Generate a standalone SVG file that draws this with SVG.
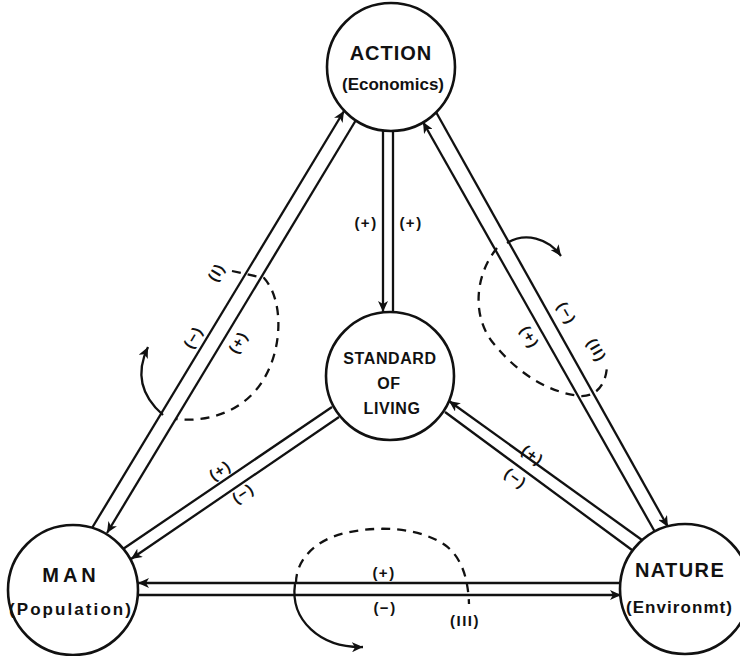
<svg xmlns="http://www.w3.org/2000/svg" width="740" height="656" viewBox="0 0 740 656">
  <defs>
    <marker id="head" markerUnits="userSpaceOnUse" markerWidth="12" markerHeight="10" refX="11" refY="5" orient="auto">
      <path d="M0,0 L11,5 L0,10 L3,5 z" fill="#111"/>
    </marker>
    <style>
      .node circle { fill: #fff; stroke: #111; stroke-width: 2.6; }
      .title { font-family: "Liberation Sans", Arial, sans-serif; font-weight: bold; font-size: 20px; fill: #111; text-anchor: middle; }
      .sub { font-family: "Liberation Sans", Arial, sans-serif; font-weight: bold; font-size: 17px; fill: #111; text-anchor: middle; }
      .inner { font-family: "Liberation Sans", Arial, sans-serif; font-weight: bold; font-size: 16px; fill: #111; text-anchor: middle; letter-spacing: 0.6px; }
      .link { stroke: #111; stroke-width: 2.3; fill: none; }
      .arrow { marker-end: url(#head); }
      .sign { font-family: "Liberation Sans", Arial, sans-serif; font-weight: bold; font-size: 15px; fill: #111; text-anchor: middle; dominant-baseline: central; letter-spacing: 1.5px; }
      .loop { stroke: #111; stroke-width: 2.3; fill: none; stroke-dasharray: 9 7; }
      .turn { stroke: #111; stroke-width: 2.3; fill: none; marker-end: url(#head); }
    </style>
  </defs>

  <rect width="740" height="656" fill="#fff"/>

  <!-- connectors: paired links, sign labels and feedback loops -->
  <g id="connectors">
    <!-- Action / Standard of Living -->
    <line class="link arrow" x1="383" y1="131" x2="383" y2="312"/>
    <line class="link" x1="393" y1="312" x2="393" y2="131"/>
    <text class="sign" x="366" y="222">(+)</text>
    <text class="sign" x="411" y="222">(+)</text>

    <!-- Action / Man -->
    <line class="link arrow" x1="92" y1="528" x2="344" y2="111"/>
    <line class="link arrow" x1="356" y1="120" x2="107" y2="533"/>
    <text class="sign" transform="translate(216,272) rotate(-59)">(I)</text>
    <text class="sign" transform="translate(193,337) rotate(-59)">(−)</text>
    <text class="sign" transform="translate(238,342) rotate(-59)">(+)</text>

    <!-- Action / Nature -->
    <line class="link arrow" x1="655" y1="532" x2="423" y2="122"/>
    <line class="link arrow" x1="436" y1="112" x2="668" y2="527"/>
    <text class="sign" transform="translate(567,313) rotate(60)">(−)</text>
    <text class="sign" transform="translate(530,337) rotate(60)">(+)</text>
    <text class="sign" transform="translate(597,350) rotate(60)">(II)</text>

    <!-- Standard of Living / Man -->
    <line class="link" x1="123" y1="549" x2="332" y2="407"/>
    <line class="link arrow" x1="339" y1="417" x2="131" y2="559"/>
    <text class="sign" transform="translate(220,470) rotate(-34)">(+)</text>
    <text class="sign" transform="translate(243,493) rotate(-34)">(−)</text>

    <!-- Nature / Standard of Living -->
    <line class="link arrow" x1="642" y1="540" x2="449" y2="401"/>
    <line class="link" x1="445" y1="412" x2="632" y2="550"/>
    <text class="sign" transform="translate(533,455) rotate(36)">(+)</text>
    <text class="sign" transform="translate(516,478) rotate(36)">(−)</text>

    <!-- Nature / Man -->
    <line class="link arrow" x1="621" y1="583" x2="138" y2="583"/>
    <line class="link arrow" x1="138" y1="595" x2="621" y2="595"/>
    <text class="sign" x="384" y="572">(+)</text>
    <text class="sign" x="385" y="607">(−)</text>
    <text class="sign" x="465" y="620">(III)</text>

    <!-- loop I -->
    <path class="loop" d="M232,271 L264,278 C284,300 283,350 262,382 C244,410 210,423 176,419"/>
    <path class="turn" d="M163,415 C140,395 136,372 148,347"/>

    <!-- loop II -->
    <path class="loop" d="M497,248 C474,276 472,318 494,344 C515,370 545,392 580,396 C596,397 606,385 607,366"/>
    <path class="turn" d="M507,243 C525,232 548,238 561,256"/>

    <!-- loop III -->
    <path class="loop" d="M296,583 C296,560 315,540 345,533 C380,525 420,528 445,545 C460,556 468,575 469,604"/>
    <path class="turn" d="M295,584 C290,620 320,648 363,647"/>
  </g>

  <g id="action" class="node">
    <circle cx="391" cy="67" r="64"/>
    <text class="title" x="391" y="60" letter-spacing="1">ACTION</text>
    <text class="sub" x="393" y="90">(Economics)</text>
  </g>

  <g id="standard-of-living" class="node">
    <circle cx="390" cy="376" r="64"/>
    <text class="inner" x="390" y="364">STANDARD</text>
    <text class="inner" x="389" y="389">OF</text>
    <text class="inner" x="392" y="414">LIVING</text>
  </g>

  <g id="man" class="node">
    <circle cx="73" cy="590" r="65"/>
    <text class="title" x="71" y="582" font-size="22" letter-spacing="4">MAN</text>
    <text class="sub" x="70" y="615" textLength="122" lengthAdjust="spacing">(Population)</text>
  </g>

  <g id="nature" class="node">
    <circle cx="685" cy="589" r="65"/>
    <text class="title" x="680" y="577" letter-spacing="1.4">NATURE</text>
    <text class="sub" x="679" y="613" textLength="106" lengthAdjust="spacing">(Environmt)</text>
  </g>
</svg>
